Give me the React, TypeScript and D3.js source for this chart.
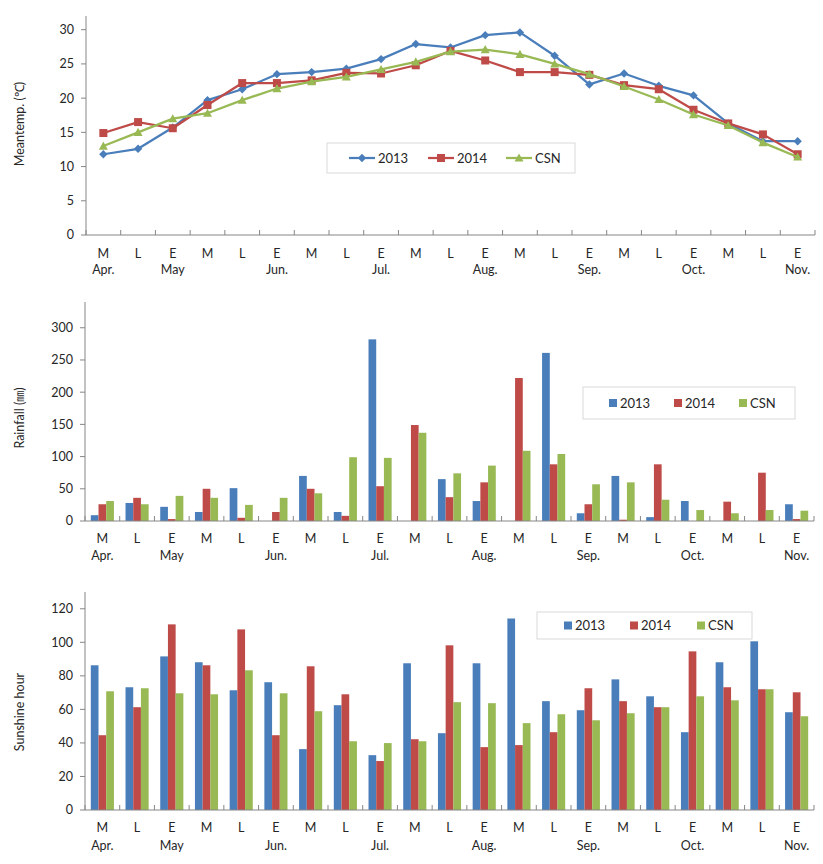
import React from 'react';
import * as d3 from 'd3';

const periods = ['M','L','E','M','L','E','M','L','E','M','L','E','M','L','E','M','L','E','M','L','E'];
const monthLabels = ['Apr.','','May','','','Jun.','','','Jul.','','','Aug.','','','Sep.','','','Oct.','','','Nov.'];
const seriesNames = ['2013','2014','CSN'];
const seriesColors = ['#4A7EBB','#BE4B48','#98B954'];

const temp2013 = [11.8,12.6,15.7,19.7,21.3,23.5,23.8,24.3,25.7,27.9,27.4,29.2,29.6,26.2,22.0,23.6,21.8,20.4,16.3,13.7,13.7];
const temp2014 = [14.9,16.5,15.6,19.0,22.2,22.2,22.6,23.7,23.6,24.8,26.9,25.5,23.8,23.8,23.4,21.9,21.3,18.3,16.3,14.7,11.8];
const tempCSN = [13.0,15.0,17.0,17.8,19.7,21.4,22.4,23.1,24.2,25.3,26.8,27.1,26.4,25.0,23.5,21.7,19.8,17.6,16.0,13.5,11.4];

const rain2013 = [9,28,22,14,51,0,70,14,282,0,65,31,0,261,12,70,6,31,0,0,26];
const rain2014 = [26,36,3,50,5,14,50,8,54,149,37,60,222,88,26,2,88,0,30,75,3];
const rainCSN = [31,26,39,36,25,36,43,99,98,137,74,86,109,104,57,60,33,17,12,17,16];

const sun2013 = [86.3,73.2,91.6,88.1,71.4,76.2,36.3,62.5,32.7,87.5,45.8,87.5,114.2,64.9,59.5,77.9,67.8,46.4,88.1,100.6,58.3];
const sun2014 = [44.6,61.3,110.7,86.3,107.7,44.6,85.7,69.0,29.2,42.2,98.2,37.5,38.7,46.4,72.6,64.9,61.3,94.6,73.2,72.0,70.2];
const sunCSN = [70.8,72.6,69.6,69.0,83.3,69.6,58.9,41.0,39.9,41.0,64.3,63.7,51.8,57.1,53.5,57.7,61.3,67.8,65.4,72.0,55.9];

const tempTicks = [0,5,10,15,20,25,30];
const rainTicks = [0,50,100,150,200,250,300];
const sunTicks = [0,20,40,60,80,100,120];

const FONT = 'Lato, "Open Sans", sans-serif';
const AXIS = '#868686';
const TXT = '#262626';

type PanelProps = {
  x0: number; x1: number; yTop: number; yBottom: number; yMax: number;
  ticks: number[]; title: React.ReactNode; titleY: number;
  row1Y: number; row2Y: number;
  children: (x: d3.ScaleBand<number>, y: d3.ScaleLinear<number, number>) => React.ReactNode;
};

function Panel(p: PanelProps) {
  const idx = d3.range(periods.length);
  const x = d3.scaleBand<number>().domain(idx).range([p.x0, p.x1]).paddingInner(0).paddingOuter(0);
  const y = d3.scaleLinear().domain([0, p.yMax]).range([p.yBottom, p.yTop]);
  const bw = x.bandwidth();
  return (
    <g>
      {p.children(x, y)}
      <line x1={p.x0} x2={p.x0} y1={p.yTop} y2={p.yBottom} stroke={AXIS} strokeWidth={1} />
      <line x1={p.x0} x2={p.x1} y1={p.yBottom} y2={p.yBottom} stroke={AXIS} strokeWidth={1} />
      {p.ticks.map(t => (
        <g key={t}>
          <line x1={p.x0 - 5} x2={p.x0} y1={y(t)} y2={y(t)} stroke={AXIS} />
          <text x={p.x0 - 12} y={y(t)} dy="0.35em" textAnchor="end" fontSize={12.5} fill={TXT} fontFamily={FONT}>{t}</text>
        </g>
      ))}
      {d3.range(periods.length + 1).map(i => (
        <line key={i} x1={p.x0 + i * bw} x2={p.x0 + i * bw} y1={p.yBottom - 5} y2={p.yBottom} stroke={AXIS} />
      ))}
      {idx.map(i => (
        <g key={i}>
          <text x={(x(i) as number) + bw / 2} y={p.row1Y} textAnchor="middle" fontSize={12.5} fill={TXT} fontFamily={FONT}>{periods[i]}</text>
          {monthLabels[i] && (
            <text x={(x(i) as number) + bw / 2} y={p.row2Y} textAnchor="middle" fontSize={12.5} fill={TXT} fontFamily={FONT}>{monthLabels[i]}</text>
          )}
        </g>
      ))}
      <text transform={`translate(24,${p.titleY}) rotate(-90)`} textAnchor="middle" fontSize={12.5} fill={TXT} fontFamily={FONT}>{p.title}</text>
    </g>
  );
}

function Marker({ kind, cx, cy, color }: { kind: number; cx: number; cy: number; color: string }) {
  if (kind === 0) {
    const s = 4.2;
    return <path d={`M${cx},${cy - s}L${cx + s},${cy}L${cx},${cy + s}L${cx - s},${cy}Z`} fill={color} />;
  }
  if (kind === 1) {
    return <rect x={cx - 4} y={cy - 4} width={8} height={8} fill={color} />;
  }
  const s = 4.5;
  return <path d={`M${cx},${cy - s}L${cx + s},${cy + s * 0.8}L${cx - s},${cy + s * 0.8}Z`} fill={color} />;
}

function BarLegend({ x, y, w, h, offsets }: { x: number; y: number; w: number; h: number; offsets: number[] }) {
  return (
    <g>
      <rect x={x} y={y} width={w} height={h} fill="#fff" stroke="#D9D9D9" />
      {seriesNames.map((n, i) => (
        <g key={n}>
          <rect x={x + offsets[i]} y={y + h / 2 - 4} width={8} height={8} fill={seriesColors[i]} />
          <text x={x + offsets[i] + 11} y={y + h / 2} dy="0.35em" fontSize={13} fill={TXT} fontFamily={FONT}>{n}</text>
        </g>
      ))}
    </g>
  );
}

function Bars({ x, y, data }: { x: d3.ScaleBand<number>; y: d3.ScaleLinear<number, number>; data: number[][] }) {
  const bw = x.bandwidth();
  const barW = bw * 0.222;
  return (
    <g>
      {data.map((s, si) => s.map((v, i) => {
        const cx = (x(i) as number) + bw / 2;
        const left = cx - 1.5 * barW + si * barW;
        return <rect key={`${si}-${i}`} x={left} y={y(v)} width={barW} height={y(0) - y(v)} fill={seriesColors[si]} />;
      }))}
    </g>
  );
}

export default function App() {
  const tempData = [temp2013, temp2014, tempCSN];
  return (
    <svg width={823} height={864} style={{ position: 'absolute', left: 0, top: 0, background: '#fff' }}>
      <rect width={823} height={864} fill="#fff" />
      <Panel x0={86} x1={815} yTop={16} yBottom={235} yMax={32} ticks={tempTicks} title="Meantemp. (℃)" titleY={124} row1Y={258} row2Y={274}>
        {(x, y) => {
          const bw = x.bandwidth();
          const line = d3.line<number>().x((_, i) => (x(i) as number) + bw / 2).y(v => y(v));
          return (
            <g>
              {tempData.map((s, si) => (
                <g key={si}>
                  <path d={line(s) || ''} fill="none" stroke={seriesColors[si]} strokeWidth={2.25} strokeLinejoin="round" />
                  {s.map((v, i) => <Marker key={i} kind={si} cx={(x(i) as number) + bw / 2} cy={y(v)} color={seriesColors[si]} />)}
                </g>
              ))}
              <g>
                <rect x={327} y={143} width={248} height={30} fill="#fff" stroke="#D9D9D9" />
                {seriesNames.map((n, i) => {
                  const lx = [349, 428, 506][i];
                  return (
                    <g key={n}>
                      <line x1={lx} x2={lx + 26} y1={158} y2={158} stroke={seriesColors[i]} strokeWidth={2.25} />
                      <Marker kind={i} cx={lx + 13} cy={158} color={seriesColors[i]} />
                      <text x={lx + 29} y={158} dy="0.35em" fontSize={13} fill={TXT} fontFamily={FONT}>{n}</text>
                    </g>
                  );
                })}
              </g>
            </g>
          );
        }}
      </Panel>
      <Panel x0={85} x1={814} yTop={302} yBottom={521} yMax={340} ticks={rainTicks}
        title={<>Rainfall (<tspan fontFamily={'"Noto Sans CJK KR", sans-serif'} fontSize={11}>㎜</tspan>)</>}
        titleY={418} row1Y={543} row2Y={560}>
        {(x, y) => (
          <g>
            <Bars x={x} y={y} data={[rain2013, rain2014, rainCSN]} />
            <BarLegend x={583} y={387} w={212} h={32} offsets={[26, 91, 156]} />
          </g>
        )}
      </Panel>
      <Panel x0={85} x1={814} yTop={592} yBottom={810} yMax={130} ticks={sunTicks} title="Sunshine hour" titleY={712} row1Y={832} row2Y={850}>
        {(x, y) => (
          <g>
            <Bars x={x} y={y} data={[sun2013, sun2014, sunCSN]} />
            <BarLegend x={537} y={612} w={215} h={27} offsets={[27, 93, 160]} />
          </g>
        )}
      </Panel>
    </svg>
  );
}
